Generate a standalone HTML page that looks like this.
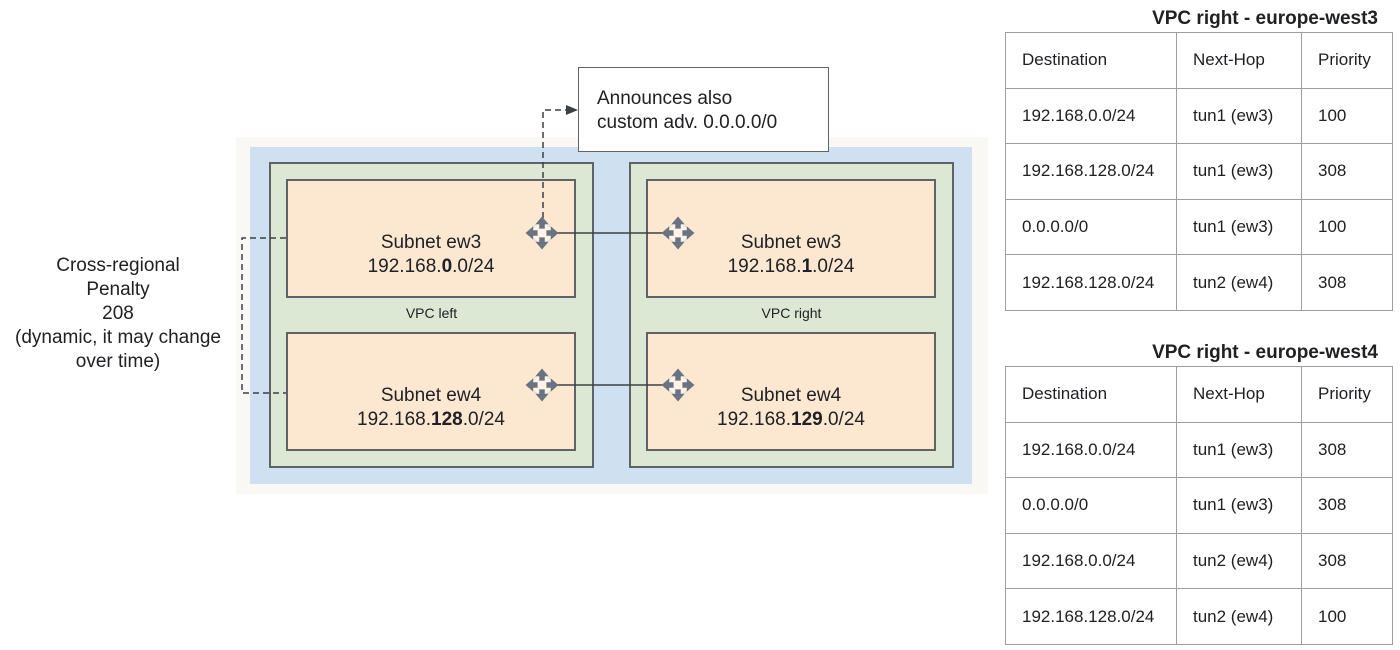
<!DOCTYPE html>
<html><head><style>
body{margin:0;width:1400px;height:650px;background:#fff;position:relative;font-family:"Liberation Sans",sans-serif;color:#202124;overflow:hidden}
.a{position:absolute;box-sizing:border-box}
.sub{background:#fce8d1;border:2px solid #5f6368;text-align:center;font-size:19px;line-height:24px}
.grn{background:#dde8d4;border:2px solid #5f6368}
table{position:absolute;border-collapse:collapse;font-size:17px}
td{border:1.5px solid #9e9e9e;height:55.6px;padding:0 0 0 16px;box-sizing:border-box}
.t{position:absolute;font-weight:bold;font-size:19px;text-align:right}
</style></head><body>
<div class="a" style="left:236px;top:137px;width:752px;height:357px;background:#faf8f5"></div>
<div class="a" style="left:250px;top:147px;width:722px;height:337px;background:#cfe0f0"></div>
<div class="a grn" style="left:269px;top:162px;width:325px;height:306px"></div>
<div class="a grn" style="left:629px;top:162px;width:325px;height:306px"></div>
<div class="a" style="left:269px;top:305px;width:325px;text-align:center;font-size:14px">VPC left</div>
<div class="a" style="left:629px;top:305px;width:325px;text-align:center;font-size:14px">VPC right</div>
<div class="a sub" style="left:286px;top:179px;width:290px;height:119px;padding-top:50px">Subnet ew3<br>192.168.<b>0</b>.0/24</div>
<div class="a sub" style="left:286px;top:332px;width:290px;height:119px;padding-top:50px">Subnet ew4<br>192.168.<b>128</b>.0/24</div>
<div class="a sub" style="left:646px;top:179px;width:290px;height:119px;padding-top:50px">Subnet ew3<br>192.168.<b>1</b>.0/24</div>
<div class="a sub" style="left:646px;top:332px;width:290px;height:119px;padding-top:50px">Subnet ew4<br>192.168.<b>129</b>.0/24</div>
<div class="a" style="left:578px;top:67px;width:251px;height:85px;border:1.5px solid #5f6368;background:#fff;font-size:19px;line-height:24px;padding:19px 0 0 18px">Announces also<br>custom adv. 0.0.0.0/0</div>
<div class="a" style="left:0;top:254px;width:236px;text-align:center;font-size:19px;line-height:24px">Cross-regional<br>Penalty<br>208<br>(dynamic, it may change<br>over time)</div>
<svg class="a" style="left:0;top:0" width="1000" height="650">
<defs><g id="r" transform="scale(1.1)"><path d="M0,-13 L13,0 L0,13 L-13,0Z" fill="#fff" opacity=".5" stroke="#c5cfdb"/>
<g fill="#6b7280"><path d="M0,-15 L-6,-8 L-2.5,-8 L-2.5,-4 L2.5,-4 L2.5,-8 L6,-8Z"/><path d="M0,15 L-6,8 L-2.5,8 L-2.5,4 L2.5,4 L2.5,8 L6,8Z"/><path d="M-15,0 L-8,-6 L-8,-2.5 L-4,-2.5 L-4,2.5 L-8,2.5 L-8,6Z"/><path d="M15,0 L8,-6 L8,-2.5 L4,-2.5 L4,2.5 L8,2.5 L8,6Z"/></g></g></defs>
<g stroke="#3c4043" stroke-width="1.5" fill="none">
<path d="M555,233 H665"/><path d="M555,385 H665"/>
<path d="M543,218 V110 H566" stroke-dasharray="6,4"/>
<path d="M286,238 H242 V393 H286" stroke-dasharray="6,4"/>
</g>
<path d="M578,110 L566,105 L566,115Z" fill="#3c4043"/>
<use href="#r" x="542" y="233"/><use href="#r" x="678" y="233"/>
<use href="#r" x="542" y="385"/><use href="#r" x="678" y="385"/>
</svg>
<div class="t" style="left:1000px;top:8px;width:378px">VPC right - europe-west3</div>
<table style="left:1005px;top:32px;width:388px">
<tr><td style="width:171px">Destination</td><td style="width:125px">Next-Hop</td><td>Priority</td></tr>
<tr><td>192.168.0.0/24</td><td>tun1 (ew3)</td><td>100</td></tr>
<tr><td>192.168.128.0/24</td><td>tun1 (ew3)</td><td>308</td></tr>
<tr><td>0.0.0.0/0</td><td>tun1 (ew3)</td><td>100</td></tr>
<tr><td>192.168.128.0/24</td><td>tun2 (ew4)</td><td>308</td></tr>
</table>
<div class="t" style="left:1000px;top:342px;width:378px">VPC right - europe-west4</div>
<table style="left:1005px;top:366px;width:388px">
<tr><td style="width:171px">Destination</td><td style="width:125px">Next-Hop</td><td>Priority</td></tr>
<tr><td>192.168.0.0/24</td><td>tun1 (ew3)</td><td>308</td></tr>
<tr><td>0.0.0.0/0</td><td>tun1 (ew3)</td><td>308</td></tr>
<tr><td>192.168.0.0/24</td><td>tun2 (ew4)</td><td>308</td></tr>
<tr><td>192.168.128.0/24</td><td>tun2 (ew4)</td><td>100</td></tr>
</table>
</body></html>
